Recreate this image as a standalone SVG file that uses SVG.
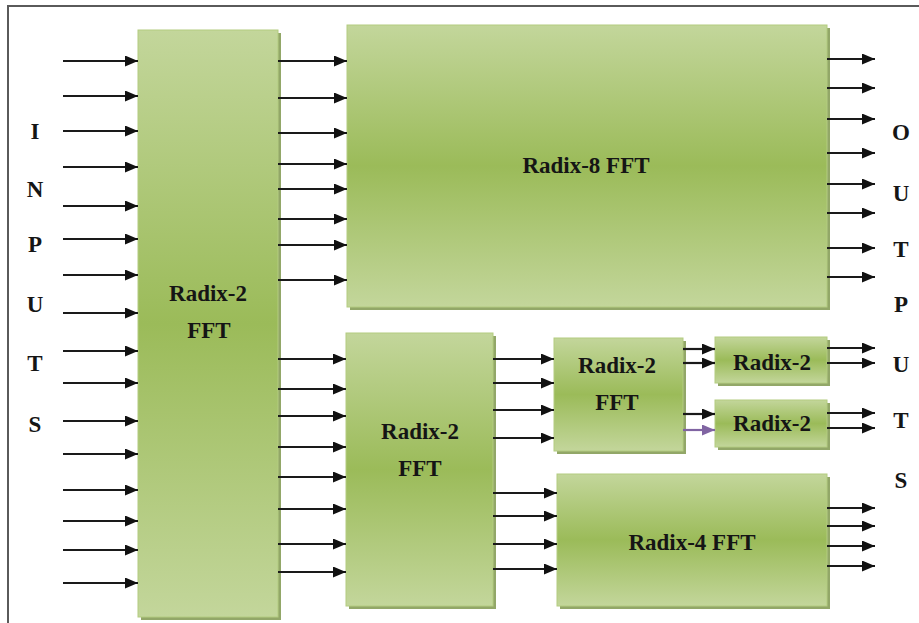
<svg xmlns="http://www.w3.org/2000/svg" width="919" height="623" viewBox="0 0 919 623">
<style>
.box{fill:url(#g);stroke:#b3cc80;stroke-width:1}
.sh{fill:#6e8a36;opacity:0.75}
.t{font-family:'Liberation Serif','Times New Roman','DejaVu Serif',serif;font-weight:bold;font-size:23px;fill:#151515;text-anchor:middle}
.a line{stroke:#1a1a1a;stroke-width:2.2;marker-end:url(#ah)}
.a line.p{stroke:#8064a2;marker-end:url(#ahp)}
</style>
<defs>
<linearGradient id="g" x1="0" y1="0" x2="0" y2="1">
<stop offset="0" stop-color="#c3d69b"/>
<stop offset="0.5" stop-color="#9bbb59"/>
<stop offset="1" stop-color="#c3d69b"/>
</linearGradient>
<marker id="ah" markerUnits="userSpaceOnUse" markerWidth="14" markerHeight="12" refX="13" refY="5.5" orient="auto" viewBox="0 0 14 12">
<path d="M0,0 L13,5.5 L0,11 z" fill="#111"/>
</marker>
<marker id="ahp" markerUnits="userSpaceOnUse" markerWidth="14" markerHeight="12" refX="13" refY="5.5" orient="auto" viewBox="0 0 14 12">
<path d="M0,0 L13,5.5 L0,11 z" fill="#8064a2"/>
</marker>
</defs>
<rect x="0" y="0" width="919" height="623" fill="#fff"/>
<rect x="8" y="6" width="1000" height="1000" fill="none" stroke="#5a5a5a" stroke-width="2"/>

<g id="labels-in">
<text class="t" x="35" y="139">I</text>
<text class="t" x="35" y="197">N</text>
<text class="t" x="35" y="252">P</text>
<text class="t" x="35" y="312">U</text>
<text class="t" x="35" y="371">T</text>
<text class="t" x="35" y="432">S</text>
</g>
<g id="labels-out">
<text class="t" x="901" y="140">O</text>
<text class="t" x="901" y="201">U</text>
<text class="t" x="901" y="257">T</text>
<text class="t" x="901" y="312">P</text>
<text class="t" x="901" y="372">U</text>
<text class="t" x="901" y="428">T</text>
<text class="t" x="901" y="488">S</text>
</g>

<g id="radix2-a">
<rect class="sh" x="141" y="33" width="140" height="587"/>
<rect class="box" x="138" y="30" width="140" height="587"/>
<text class="t" x="208" y="301">Radix-2</text>
<text class="t" x="209" y="338">FFT</text>
</g>
<g id="radix8">
<rect class="sh" x="350" y="28" width="480" height="282"/>
<rect class="box" x="347" y="25" width="480" height="282"/>
<text class="t" x="586" y="173">Radix-8 FFT</text>
</g>
<g id="radix2-b">
<rect class="sh" x="349" y="336" width="147" height="273"/>
<rect class="box" x="346" y="333" width="147" height="273"/>
<text class="t" x="420" y="439">Radix-2</text>
<text class="t" x="420" y="476">FFT</text>
</g>
<g id="radix2-c">
<rect class="sh" x="557" y="341" width="129" height="113"/>
<rect class="box" x="554" y="338" width="129" height="113"/>
<text class="t" x="617" y="373">Radix-2</text>
<text class="t" x="617" y="410">FFT</text>
</g>
<g id="radix4">
<rect class="sh" x="560" y="477" width="270" height="132"/>
<rect class="box" x="557" y="474" width="270" height="132"/>
<text class="t" x="692" y="550">Radix-4 FFT</text>
</g>
<g id="radix2-d">
<rect class="sh" x="718" y="340" width="112" height="46"/>
<rect class="box" x="715" y="337" width="112" height="46"/>
<text class="t" x="772" y="370">Radix-2</text>
</g>
<g id="radix2-e">
<rect class="sh" x="718" y="403" width="112" height="47"/>
<rect class="box" x="715" y="400" width="112" height="47"/>
<text class="t" x="772" y="431">Radix-2</text>
</g>

<g id="connectors" class="a">
<line x1="63" y1="61" x2="138" y2="61"/>
<line x1="63" y1="96" x2="138" y2="96"/>
<line x1="63" y1="131" x2="138" y2="131"/>
<line x1="63" y1="167" x2="138" y2="167"/>
<line x1="63" y1="206" x2="138" y2="206"/>
<line x1="63" y1="239" x2="138" y2="239"/>
<line x1="63" y1="275" x2="138" y2="275"/>
<line x1="63" y1="313" x2="138" y2="313"/>
<line x1="63" y1="351" x2="138" y2="351"/>
<line x1="63" y1="383" x2="138" y2="383"/>
<line x1="63" y1="421" x2="138" y2="421"/>
<line x1="63" y1="454" x2="138" y2="454"/>
<line x1="63" y1="490" x2="138" y2="490"/>
<line x1="63" y1="521" x2="138" y2="521"/>
<line x1="63" y1="550" x2="138" y2="550"/>
<line x1="63" y1="583" x2="138" y2="583"/>

<line x1="278" y1="61" x2="347" y2="61"/>
<line x1="278" y1="98" x2="347" y2="98"/>
<line x1="278" y1="133" x2="347" y2="133"/>
<line x1="278" y1="164" x2="347" y2="164"/>
<line x1="278" y1="189" x2="347" y2="189"/>
<line x1="278" y1="219" x2="347" y2="219"/>
<line x1="278" y1="245" x2="347" y2="245"/>
<line x1="278" y1="280" x2="347" y2="280"/>

<line x1="827" y1="59" x2="875" y2="59"/>
<line x1="827" y1="88" x2="875" y2="88"/>
<line x1="827" y1="119" x2="875" y2="119"/>
<line x1="827" y1="153" x2="875" y2="153"/>
<line x1="827" y1="184" x2="875" y2="184"/>
<line x1="827" y1="213" x2="875" y2="213"/>
<line x1="827" y1="248" x2="875" y2="248"/>
<line x1="827" y1="277" x2="875" y2="277"/>

<line x1="278" y1="359" x2="346" y2="359"/>
<line x1="278" y1="389" x2="346" y2="389"/>
<line x1="278" y1="416" x2="346" y2="416"/>
<line x1="278" y1="447" x2="346" y2="447"/>
<line x1="278" y1="477" x2="346" y2="477"/>
<line x1="278" y1="509" x2="346" y2="509"/>
<line x1="278" y1="544" x2="346" y2="544"/>
<line x1="278" y1="572" x2="346" y2="572"/>

<line x1="493" y1="359" x2="554" y2="359"/>
<line x1="493" y1="383" x2="554" y2="383"/>
<line x1="493" y1="410" x2="554" y2="410"/>
<line x1="493" y1="438" x2="554" y2="438"/>

<line x1="493" y1="493" x2="557" y2="493"/>
<line x1="493" y1="516" x2="557" y2="516"/>
<line x1="493" y1="544" x2="557" y2="544"/>
<line x1="493" y1="569" x2="557" y2="569"/>

<line x1="683" y1="349" x2="715" y2="349"/>
<line x1="683" y1="363" x2="715" y2="363"/>
<line x1="683" y1="414" x2="715" y2="414"/>
<line class="p" x1="683" y1="430" x2="715" y2="430"/>

<line x1="827" y1="348" x2="875" y2="348"/>
<line x1="827" y1="363" x2="875" y2="363"/>
<line x1="827" y1="413" x2="875" y2="413"/>
<line x1="827" y1="428" x2="875" y2="428"/>

<line x1="827" y1="508" x2="875" y2="508"/>
<line x1="827" y1="526" x2="875" y2="526"/>
<line x1="827" y1="546" x2="875" y2="546"/>
<line x1="827" y1="566" x2="875" y2="566"/>
</g>
</svg>
